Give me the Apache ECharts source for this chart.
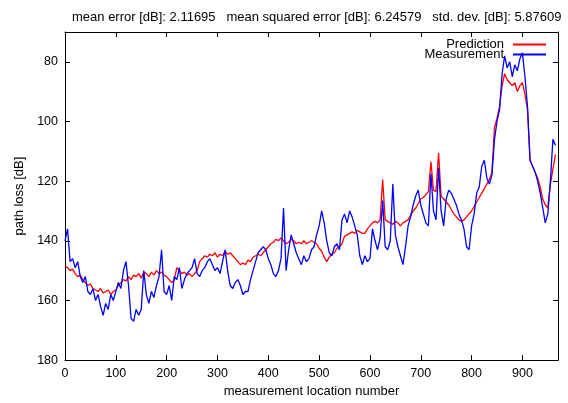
<!DOCTYPE html>
<html>
<head>
<meta charset="utf-8">
<script src="https://cdn.jsdelivr.net/npm/echarts@6/dist/echarts.min.js"></script>
<style>
html, body { margin: 0; padding: 0; background: #fff; }
#chart { width: 568px; height: 403px; }
</style>
</head>
<body>
<div id="chart"></div>
<script>
// location number of sample i is i * step
var step = 5;

var measurement = [
    140, 136, 147, 146, 149, 147, 152, 154, 152, 157,
    158, 156, 160, 158, 162, 165, 161, 163, 158, 160,
    157, 154, 156, 150, 147, 155, 166, 167, 163, 165,
    163, 150, 158, 161, 157, 159, 155, 152, 143, 157,
    158, 155, 160, 152, 153, 149, 156, 153, 151, 150,
    149, 146, 151, 152, 150, 149, 147, 146, 148, 150,
    149, 151, 147, 143, 150, 155, 156, 154, 153, 155,
    158, 157, 157, 153, 150, 147, 144, 143, 142, 143,
    146, 148, 151, 152, 150, 146, 129, 150, 143, 138,
    141, 144, 146, 148, 145, 147, 146, 143, 142, 138,
    135, 130, 134, 140, 144, 145, 142, 141, 143, 133,
    131, 134, 130, 132, 135, 138, 145, 148, 145, 147,
    146, 136, 140, 143, 139, 126.5, 142, 143, 140, 121,
    138, 142, 145, 148, 142, 135, 132, 128, 125, 123,
    128, 131, 134, 135, 117.5, 130, 133, 115.5, 130, 135,
    126, 123, 124, 126, 128, 131, 133, 136, 142, 143,
    135, 131, 124, 122, 115, 113, 119, 121, 118, 106,
    100, 96, 84, 78, 82, 80, 85, 81, 83, 79,
    77, 85, 95, 113, 115, 117, 120, 124, 129, 134,
    131, 120, 106, 108
];

// predicted path loss [dB]
var prediction = [
    148.5, 149, 150, 149.5, 151, 152, 151.5, 153, 154, 155,
    154.5, 156, 156.5, 157, 156, 157.5, 157, 156.5, 158, 157,
    156.5, 155, 154, 153, 153.5, 152, 153, 151.5, 152, 151,
    152.5, 150.5, 151, 152, 150.5, 151.5, 150, 151, 150.5, 151.5,
    152, 153, 154, 153, 149, 150, 151, 150.5, 151.5, 151,
    152, 151, 150, 147, 146, 145, 145.5, 144.5, 145, 144,
    145.5, 144.5, 145, 143.5, 144.5, 144, 145, 146, 147, 148,
    147.5, 148, 146.5, 147, 145.5, 145, 144.5, 145, 144, 143,
    142, 141, 140.5, 139.5, 140, 139, 140, 141, 140.5, 139.5,
    140, 141, 140.5, 141, 140, 141, 140.5, 140, 140.5, 141,
    142.5, 143.5, 145.5, 147, 145.5, 144.5, 144, 142.5, 142, 141,
    138.5, 138, 137.5, 137, 137.5, 136.5, 137, 137.5, 137.5, 136,
    135, 134, 133.5, 134, 133, 119.5, 133, 133.5, 134, 134.5,
    133.5, 134, 135, 134, 133.5, 133, 131.5, 130, 129, 127.5,
    126, 125.5, 124.5, 123.5, 113.5, 123, 123.5, 110.5, 125, 126,
    127, 128, 129.5, 131, 132, 133, 133.5, 133, 132, 131,
    130, 128.5, 127, 125.5, 124, 122.5, 121, 119.5, 117, 102,
    99, 95, 88, 84, 86, 87, 88, 87, 90, 88,
    87, 91, 96, 113, 115, 117, 119, 122, 126, 128,
    129, 121, 116, 111
];

var xTicks = [0, 100, 200, 300, 400, 500, 600, 700, 800, 900];
var yTicks = [80, 100, 120, 140, 160, 180];
var titleText = 'mean error [dB]: 2.11695   mean squared error [dB]: 6.24579   std. dev. [dB]: 5.87609';

var FONT = '"Liberation Sans", Arial, sans-serif';

function toPairs(arr) {
    return arr.map(function (v, i) { return [i * step, v]; });
}

// one axis, either the labelled one or the mirror on the opposite side
function makeAxis(isX, mirror) {
    var ticks = isX ? xTicks : yTicks;
    var ax = {
        type: 'value',
        min: isX ? 0 : 70,
        max: isX ? 970 : 180,
        inverse: !isX,
        position: isX ? (mirror ? 'top' : 'bottom') : (mirror ? 'right' : 'left'),
        axisLine: { show: true, onZero: false, lineStyle: { color: '#000', width: 1 } },
        axisTick: { show: true, inside: true, length: 5, customValues: ticks, lineStyle: { color: '#000', width: 1 } },
        axisLabel: { show: !mirror, customValues: ticks, color: '#000', fontSize: 12.5, fontFamily: FONT, margin: 7 },
        splitLine: { show: false }
    };
    if (!mirror) {
        ax.name = isX ? 'measurement location number' : 'path loss [dB]';
        ax.nameLocation = 'middle';
        ax.nameGap = isX ? 19 : 38;
        ax.nameTextStyle = { color: '#000', fontSize: 13, fontFamily: FONT };
    }
    return ax;
}

var chart = echarts.init(document.getElementById('chart'), null, { renderer: 'canvas' });

chart.setOption({
    animation: false,
    backgroundColor: '#fff',
    title: {
        text: titleText,
        left: 67,
        top: 6,
        textStyle: { color: '#000', fontSize: 13, fontWeight: 'normal', fontFamily: FONT }
    },
    legend: {
        orient: 'vertical',
        right: 17,
        top: 33,
        align: 'right',
        icon: 'rect',
        itemWidth: 33,
        itemHeight: 2,
        itemGap: -3,
        textStyle: { color: '#000', fontSize: 13, fontFamily: FONT, padding: [0, 4, 0, 0] },
        data: ['Prediction', 'Measurement']
    },
    grid: { left: 65, right: 10, top: 32, bottom: 38 },
    xAxis: [makeAxis(true, false), makeAxis(true, true)],
    yAxis: [makeAxis(false, false), makeAxis(false, true)],
    series: [
        {
            name: 'Prediction',
            type: 'line',
            data: toPairs(prediction),
            showSymbol: false,
            symbol: 'none',
            lineStyle: { color: '#ff0000', width: 1.3 },
            itemStyle: { color: '#ff0000' }
        },
        {
            name: 'Measurement',
            type: 'line',
            data: toPairs(measurement),
            showSymbol: false,
            symbol: 'none',
            lineStyle: { color: '#0000ff', width: 1.3 },
            itemStyle: { color: '#0000ff' }
        }
    ]
});
</script>
</body>
</html>
